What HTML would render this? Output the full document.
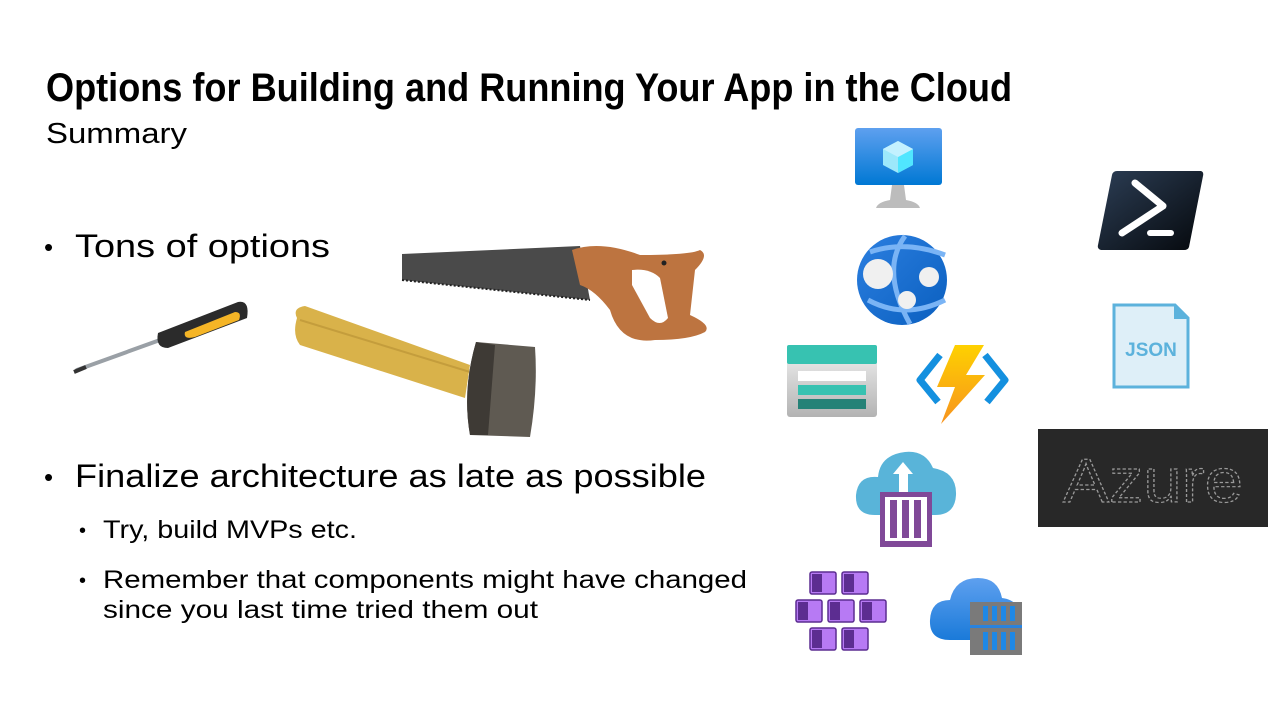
<!DOCTYPE html>
<html><head><meta charset="utf-8"><style>
html,body{margin:0;padding:0;background:#fff;}
svg{display:block;}
text{font-family:"Liberation Sans",sans-serif;fill:#000;}
</style></head><body>
<svg width="1280" height="720" viewBox="0 0 1280 720" xmlns="http://www.w3.org/2000/svg">
<defs>
<linearGradient id="vm" x1="0" y1="0" x2="0" y2="1"><stop offset="0" stop-color="#5ea0ef"/><stop offset="1" stop-color="#0078d4"/></linearGradient>
<linearGradient id="glb" x1="0" y1="0" x2="1" y2="1"><stop offset="0" stop-color="#2c7fe0"/><stop offset="1" stop-color="#0a5fbf"/></linearGradient>
<linearGradient id="ps" x1="0" y1="0" x2="1" y2="1"><stop offset="0" stop-color="#2c3e55"/><stop offset="1" stop-color="#05080c"/></linearGradient>
<linearGradient id="bolt" x1="0" y1="0" x2="0" y2="1"><stop offset="0" stop-color="#fed100"/><stop offset="1" stop-color="#f7931e"/></linearGradient>
<linearGradient id="stor" x1="0" y1="0" x2="0" y2="1"><stop offset="0" stop-color="#f2f2f2"/><stop offset="1" stop-color="#b3b3b3"/></linearGradient>
<linearGradient id="cl2" x1="0" y1="0" x2="0" y2="1"><stop offset="0" stop-color="#5ea0ef"/><stop offset="1" stop-color="#1a7ad9"/></linearGradient>
</defs>

<!-- Title -->
<text x="46" y="101" font-size="40" font-weight="bold" textLength="966" lengthAdjust="spacingAndGlyphs">Options for Building and Running Your App in the Cloud</text>
<text x="46" y="143" font-size="29" textLength="141" lengthAdjust="spacingAndGlyphs">Summary</text>

<!-- Bullets -->
<text x="44" y="256" font-size="26">•</text>
<text x="75" y="257" font-size="32" textLength="255" lengthAdjust="spacingAndGlyphs">Tons of options</text>
<text x="44" y="486" font-size="26">•</text>
<text x="75" y="487" font-size="32" textLength="631" lengthAdjust="spacingAndGlyphs">Finalize architecture as late as possible</text>
<text x="79" y="537" font-size="20">•</text>
<text x="103" y="538" font-size="25" textLength="254" lengthAdjust="spacingAndGlyphs">Try, build MVPs etc.</text>
<text x="79" y="587" font-size="20">•</text>
<text x="103" y="588" font-size="25" textLength="644" lengthAdjust="spacingAndGlyphs">Remember that components might have changed</text>
<text x="103" y="618" font-size="25" textLength="435" lengthAdjust="spacingAndGlyphs">since you last time tried them out</text>

<!-- Screwdriver -->
<line x1="77" y1="370" x2="160" y2="340" stroke="#9aa0a6" stroke-width="4" stroke-linecap="round"/>
<line x1="74" y1="372" x2="86" y2="367" stroke="#333" stroke-width="4"/>
<path d="M158 333 L238 302 Q250 300 247 318 L168 348 Q155 348 158 333Z" fill="#2b2b2b"/>
<path d="M185 332 L235 312 Q242 312 239 320 L195 337 Q183 340 185 332Z" fill="#f5b526"/>

<!-- Hammer -->
<path d="M297 318 Q292 308 305 306 L470 365 L465 398 L300 345 Q292 335 297 318Z" fill="#d9b24a"/>
<path d="M300 320 L470 372" stroke="#b08a30" stroke-width="2" opacity="0.5"/>
<path d="M476 342 L535 347 Q538 390 530 437 L470 435 Q462 390 476 342Z" fill="#5f5a52"/>
<path d="M476 342 L495 345 L488 435 L470 435 Q462 390 476 342Z" fill="#3e3a35"/>

<!-- Saw -->
<path d="M402 254 L580 246 L590 300 L402 280 Z" fill="#4a4a4a"/>
<path d="M402 280 L590 300" stroke="#222" stroke-width="2" stroke-dasharray="2 2"/>
<path d="M572 250 Q600 240 640 255 Q690 255 700 250 Q710 255 695 270 L690 315 Q712 325 705 332 Q690 340 655 340 Q620 345 610 310 Q595 290 580 285 Z" fill="#bd7440"/>
<path d="M632 270 Q650 268 660 278 L668 318 Q660 328 650 318 L632 285 Z" fill="#fff"/>
<circle cx="664" cy="263" r="2.5" fill="#222"/>

<!-- VM -->
<rect x="855" y="128" width="87" height="57" rx="3" fill="url(#vm)"/>
<path d="M898 141 L913 149 L913 165 L898 173 L883 165 L883 149Z" fill="#9ce8fb"/>
<path d="M898 157 L913 149 L913 165 L898 173Z" fill="#50e6ff"/>
<path d="M883 149 L898 141 L913 149 L898 157Z" fill="#c3f1ff"/>
<path d="M892 185 L904 185 L906 200 Q918 202 920 208 L876 208 Q878 202 890 200Z" fill="#bcbcbc"/>

<!-- Globe -->
<circle cx="902" cy="280" r="45" fill="url(#glb)"/>
<path d="M870 252 Q905 240 945 255 M868 300 Q905 320 945 300 M905 236 Q880 270 910 324" stroke="#7ab4f5" stroke-width="5" fill="none"/>
<circle cx="878" cy="274" r="15" fill="#f0f0f0"/>
<circle cx="929" cy="277" r="10" fill="#f0f0f0"/>
<circle cx="907" cy="300" r="9" fill="#f0f0f0"/>

<!-- Storage table -->
<rect x="787" y="345" width="90" height="72" rx="3" fill="url(#stor)"/>
<rect x="787" y="345" width="90" height="19" rx="2" fill="#37c2b1"/>
<rect x="798" y="371" width="68" height="10" fill="#fff"/>
<rect x="798" y="385" width="68" height="10" fill="#37c2b1"/>
<rect x="798" y="399" width="68" height="10" fill="#258277"/>

<!-- Functions -->
<path d="M940 355 L920 380 L938 402" stroke="#1490df" stroke-width="7" fill="none" stroke-linejoin="round"/>
<path d="M985 355 L1005 380 L987 402" stroke="#1490df" stroke-width="7" fill="none" stroke-linejoin="round"/>
<path d="M955 345 L984 345 L966 375 L985 375 L941 424 L955 387 L937 387Z" fill="url(#bolt)"/>

<!-- Cloud with container -->
<path d="M875 515 Q855 515 856 495 Q858 475 878 477 Q880 455 905 452 Q925 450 933 468 Q957 472 956 495 Q955 515 935 515Z" fill="#59b4d9"/>
<rect x="899" y="470" width="9" height="30" fill="#fff"/>
<path d="M893 474 L903 462 L913 474Z" fill="#fff"/>
<rect x="880" y="492" width="52" height="55" fill="#804998"/>
<rect x="885" y="497" width="42" height="44" fill="#fff"/>
<rect x="890" y="500" width="7" height="38" fill="#804998"/>
<rect x="902" y="500" width="7" height="38" fill="#804998"/>
<rect x="914" y="500" width="7" height="38" fill="#804998"/>

<!-- Kubernetes cluster -->
<g fill="#b77af4" stroke="#5c2d91" stroke-width="1.5">
<rect x="810" y="572" width="26" height="22" rx="2"/>
<rect x="842" y="572" width="26" height="22" rx="2"/>
<rect x="796" y="600" width="26" height="22" rx="2"/>
<rect x="828" y="600" width="26" height="22" rx="2"/>
<rect x="860" y="600" width="26" height="22" rx="2"/>
<rect x="810" y="628" width="26" height="22" rx="2"/>
<rect x="842" y="628" width="26" height="22" rx="2"/>
</g>
<g fill="#5c2d91">
<rect x="812" y="574" width="10" height="18"/><rect x="844" y="574" width="10" height="18"/>
<rect x="798" y="602" width="10" height="18"/><rect x="830" y="602" width="10" height="18"/><rect x="862" y="602" width="10" height="18"/>
<rect x="812" y="630" width="10" height="18"/><rect x="844" y="630" width="10" height="18"/>
</g>

<!-- Cloud + container -->
<path d="M950 640 Q929 640 930 620 Q931 600 950 600 Q955 578 978 578 Q998 578 1002 598 Q1020 600 1022 620 L1022 640Z" fill="url(#cl2)"/>
<rect x="970" y="602" width="52" height="23" fill="#7a7a7a"/>
<rect x="970" y="628" width="52" height="27" fill="#7a7a7a"/>
<g fill="#1e88e5"><rect x="983" y="606" width="5" height="15"/><rect x="992" y="606" width="5" height="15"/><rect x="1001" y="606" width="5" height="15"/><rect x="1010" y="606" width="5" height="15"/>
<rect x="983" y="632" width="5" height="18"/><rect x="992" y="632" width="5" height="18"/><rect x="1001" y="632" width="5" height="18"/><rect x="1010" y="632" width="5" height="18"/></g>

<!-- PowerShell -->
<path d="M1117 171 L1201 171 Q1204 172 1203 176 L1189 247 Q1188 250 1184 250 L1101 250 Q1097 249 1098 245 L1112 175 Q1113 171 1117 171Z" fill="url(#ps)"/>
<path d="M1135 183 L1163 206 L1122 233" stroke="#fff" stroke-width="7" fill="none" stroke-linecap="round" stroke-linejoin="round"/>
<line x1="1150" y1="233" x2="1171" y2="233" stroke="#fff" stroke-width="6" stroke-linecap="round"/>

<!-- JSON -->
<path d="M1114 305 L1175 305 L1188 318 L1188 387 L1114 387Z" fill="#deeff8" stroke="#5cb2dc" stroke-width="3"/>
<path d="M1174 305 L1188 319 L1174 319Z" fill="#5cb2dc"/>
<text x="1151" y="356" font-size="19" text-anchor="middle" style="fill:#5cb2dc" font-weight="bold">JSON</text>

<!-- Azure ASCII -->
<rect x="1038" y="429" width="230" height="98" fill="#282828"/>
<text x="1153" y="502" font-size="62" text-anchor="middle" font-family="Liberation Mono, monospace" style="fill:none;stroke:#9a9a9a;stroke-width:1.2;stroke-dasharray:3 2" textLength="180" lengthAdjust="spacingAndGlyphs">Azure</text>
</svg>
</body></html>
